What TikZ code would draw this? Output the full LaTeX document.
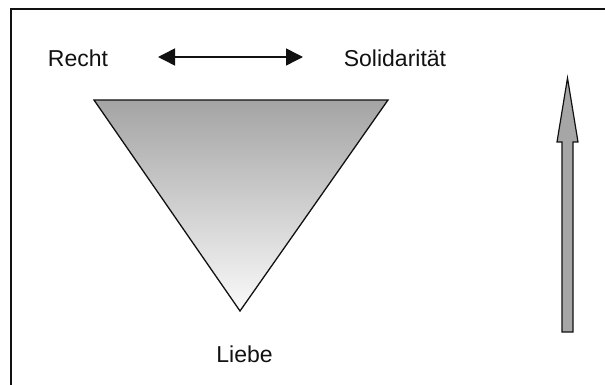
\documentclass[tikz,border=0pt]{standalone}
\usepackage{fontspec}
\setmainfont{Liberation Sans}
\usetikzlibrary{arrows.meta,positioning}
\definecolor{cInk}{HTML}{111111}
\definecolor{cTop}{HTML}{A4A4A4}
\definecolor{cLow}{HTML}{FAFAFA}
\definecolor{cBar}{HTML}{A6A6A6}
\tikzset{
  lbl/.style    = {font=\fontsize{23}{26}\selectfont, text=cInk,
                   inner sep=0pt, anchor=base},
  both/.style   = {{Triangle[length=17pt,width=17pt]}-{Triangle[length=17pt,width=17pt]},
                   line width=1.5pt, draw=cInk},
  rim/.style    = {line width=1.5pt, draw=cInk},
  wedge/.style  = {top color=cTop, bottom color=cLow, draw=cInk, line width=1.3pt},
  bar/.style    = {fill=cBar, draw=cInk, line width=1.2pt},
}

\begin{document}
\begin{tikzpicture}[x=1pt, y=-1pt]
  \useasboundingbox (0,0) rectangle (605,385);
  % open frame, cut at the right and bottom
  \coordinate (fb) at (11,385);
  \coordinate (fc) at (11,9);
  \coordinate (fr) at (605,9);
  \draw[rim] (fb) -- (fc) -- (fr);

  \node[lbl] (recht) at (78,67) {Recht};
  \node[lbl] (solid) at (395,67) {Solidarität};
  \node[lbl] (liebe) at (244.5,362) {Liebe};

  \coordinate (al) at (158,57);
  \coordinate (ar) at (303,57);
  \draw[both] (al) -- (ar);

  % the triangle
  \shade[wedge] (94,100) -- (388,100) -- (240,311) -- cycle;

  % block arrow on the right
  \filldraw[bar] (562,332) -- (562,142) -- (557,142) -- (567.5,78)
    -- (578,142) -- (573,142) -- (573,332) -- cycle;
\end{tikzpicture}
\end{document}
